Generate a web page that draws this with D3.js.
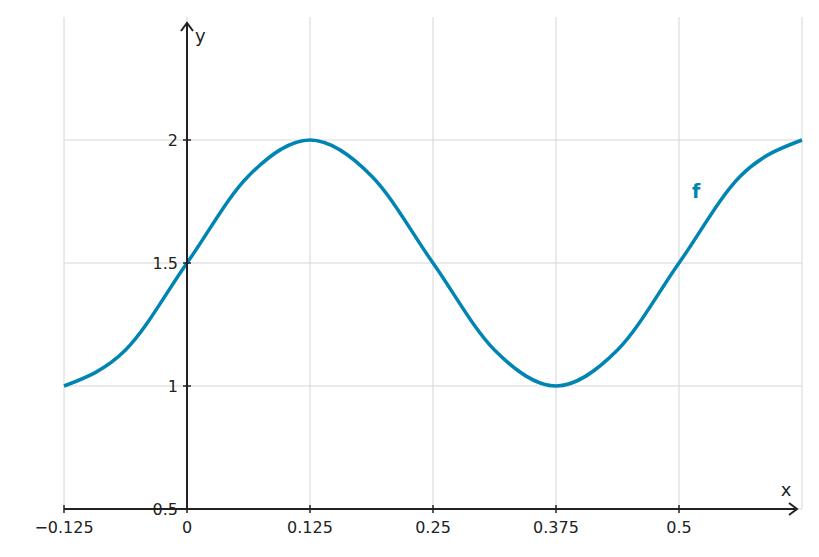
<!DOCTYPE html>
<html><head><meta charset="utf-8">
<script src="https://cdn.jsdelivr.net/npm/d3@7"></script>
<style>body{margin:0;background:#fff}text{font-family:"DejaVu Sans",sans-serif;fill:#222}</style>
</head><body>
<svg id="c" width="819" height="557"></svg>
<script>
var xTicks = [-0.125, 0, 0.125, 0.25, 0.375, 0.5];
var xTickLabels = ["\u22120.125", "0", "0.125", "0.25", "0.375", "0.5"];
var yTicks = [0.5, 1, 1.5, 2];
var yTickLabels = ["0.5", "1", "1.5", "2"];
var curveX = [-0.125, -0.0625, 0, 0.0625, 0.125, 0.1875, 0.25, 0.3125, 0.375, 0.4375, 0.5, 0.5625, 0.625];
var curveY = [1, 1.146, 1.5, 1.854, 2, 1.854, 1.5, 1.146, 1, 1.146, 1.5, 1.854, 2];

var svg = d3.select("#c");
var x = d3.scaleLinear().domain([-0.125, 0.625]).range([64, 802]);
var y = d3.scaleLinear().domain([0.5, 2.5]).range([509, 17]);
var blue = "#0084b4";

// grid
svg.selectAll(".gx").data(xTicks.concat([0.625])).enter().append("line")
  .attr("x1", function(d){return x(d);}).attr("x2", function(d){return x(d);})
  .attr("y1", y(2.5)).attr("y2", y(0.5)).attr("stroke", "#d6d6d6");
svg.selectAll(".gy").data(yTicks).enter().append("line")
  .attr("x1", x(-0.125)).attr("x2", x(0.625))
  .attr("y1", function(d){return y(d);}).attr("y2", function(d){return y(d);})
  .attr("stroke", "#d6d6d6");

// curve
var pts = curveX.map(function(v, i){return [v, curveY[i]];});
svg.append("path").datum(pts)
  .attr("d", d3.line().x(function(d){return x(d[0]);}).y(function(d){return y(d[1]);}).curve(d3.curveMonotoneX))
  .attr("fill", "none").attr("stroke", blue).attr("stroke-width", 3.5);

// axes
var ax = "#222";
svg.append("line").attr("x1", x(-0.125)).attr("x2", 797).attr("y1", y(0.5)).attr("y2", y(0.5)).attr("stroke", ax).attr("stroke-width", 2);
svg.append("path").attr("d", "M789,503 L797,509 L789,515").attr("fill", "none").attr("stroke", ax).attr("stroke-width", 2);
svg.append("line").attr("x1", x(0)).attr("x2", x(0)).attr("y1", y(0.5)).attr("y2", 23).attr("stroke", ax).attr("stroke-width", 2);
svg.append("path").attr("d", "M181,31 L187,23 L193,31").attr("fill", "none").attr("stroke", ax).attr("stroke-width", 2);

// ticks
svg.selectAll(".tx").data(xTicks).enter().append("line")
  .attr("x1", function(d){return x(d);}).attr("x2", function(d){return x(d);})
  .attr("y1", y(0.5) - 4).attr("y2", y(0.5) + 4).attr("stroke", ax).attr("stroke-width", 1.5);
svg.selectAll(".lx").data(xTicks).enter().append("text")
  .attr("x", function(d){return x(d);}).attr("y", 533).attr("text-anchor", "middle")
  .attr("font-size", 16).text(function(d, i){return xTickLabels[i];});
svg.selectAll(".ty").data(yTicks).enter().append("line")
  .attr("x1", x(0) - 4).attr("x2", x(0) + 4)
  .attr("y1", function(d){return y(d);}).attr("y2", function(d){return y(d);})
  .attr("stroke", ax).attr("stroke-width", 1.5);
svg.selectAll(".ly").data(yTicks).enter().append("text")
  .attr("x", x(0) - 9).attr("y", function(d){return y(d) + 6;}).attr("text-anchor", "end")
  .attr("font-size", 16).text(function(d, i){return yTickLabels[i];});

svg.append("text").attr("x", 786).attr("y", 496).attr("text-anchor", "middle").attr("font-size", 18).text("x");
svg.append("text").attr("x", 195).attr("y", 42).attr("font-size", 18).text("y");
svg.append("text").attr("x", 692).attr("y", 198).attr("font-size", 19).attr("font-weight", "bold")
  .style("fill", blue).text("f");
</script>
</body></html>
